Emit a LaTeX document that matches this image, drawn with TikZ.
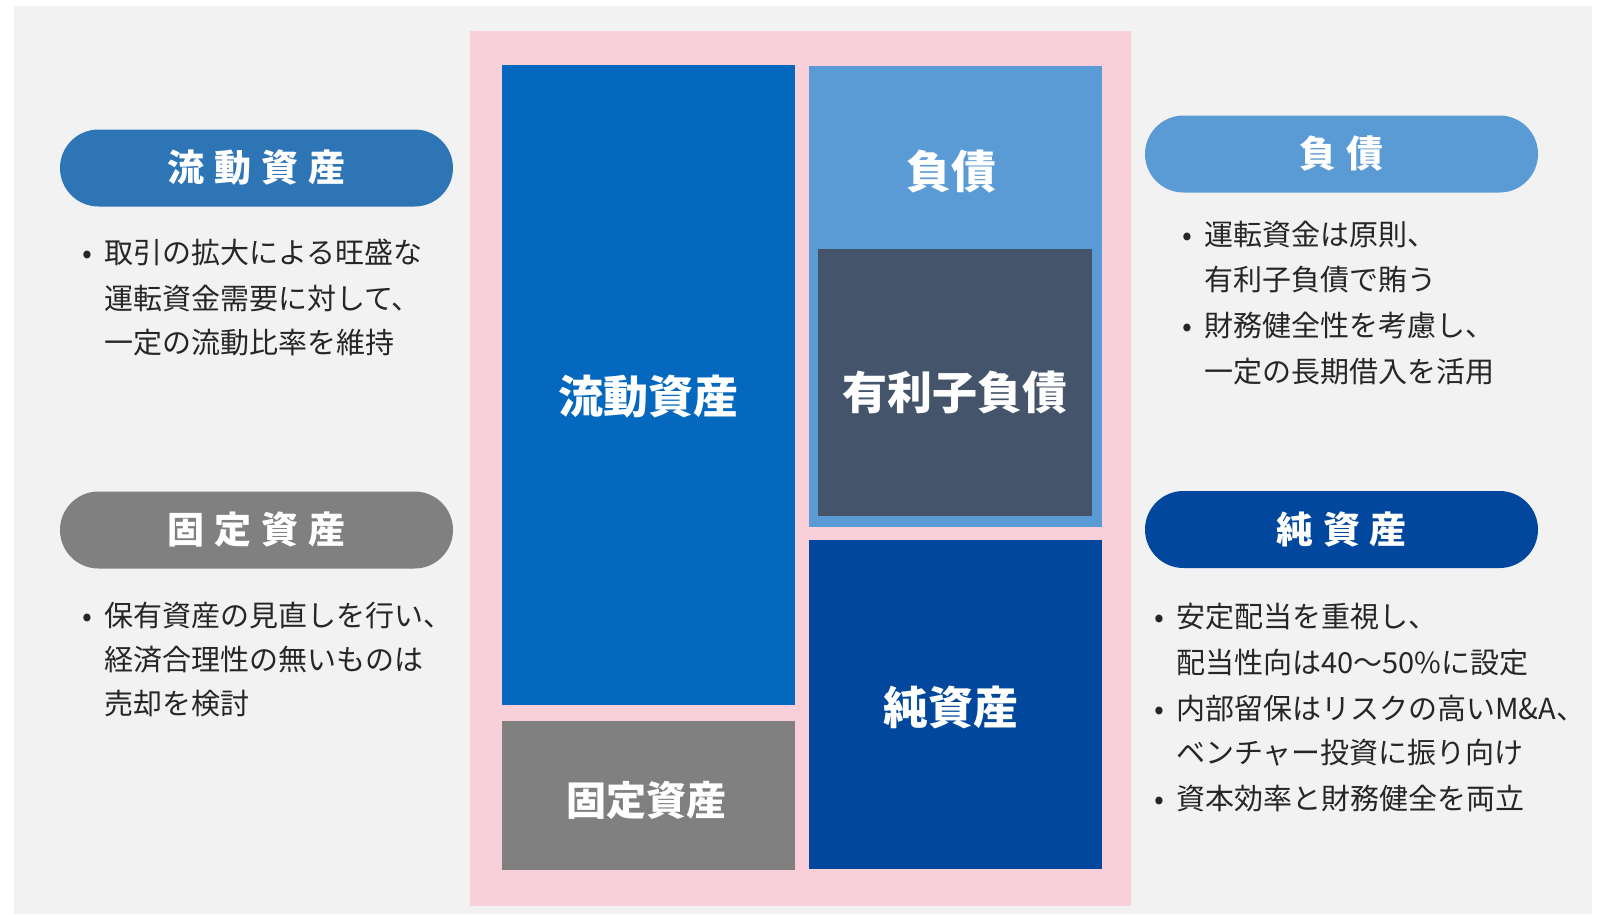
\documentclass[tikz,border=0pt]{standalone}
\usepackage{fontspec}
\setmainfont{Noto Sans CJK JP}
\definecolor{bggray}{HTML}{F2F2F2}
\definecolor{pinkbg}{HTML}{F9D0D9}
\definecolor{cablue}{HTML}{0468BE}
\definecolor{pillblue}{HTML}{2E75B6}
\definecolor{fagray}{HTML}{808080}
\definecolor{liblue}{HTML}{5B9BD5}
\definecolor{slate}{HTML}{44546A}
\definecolor{navy}{HTML}{00479D}
\definecolor{txt}{HTML}{262626}
\tikzset{
  panel/.style={draw=none, inner sep=0pt, outer sep=0pt},
  bigtext/.style={text=white, inner sep=0pt, font=\fontsize{45}{54}\selectfont\bfseries},
  midtext/.style={text=white, inner sep=0pt, font=\fontsize{40}{48}\selectfont\bfseries},
  pill/.style={draw=none, inner sep=0pt, minimum width=393pt, minimum height=77pt, rounded corners=38.5pt, text=white, font=\fontsize{37}{44}\selectfont\bfseries},
  bl/.style={anchor=west, inner sep=0pt, text=txt, font=\fontsize{29}{35}\selectfont},
}
\newcommand{\bu}{\llap{\makebox[34pt][c]{•}}}
\newcommand{\ls}{\hspace{10pt}}
\begin{document}
\begin{tikzpicture}[x=1pt,y=-1pt]
\useasboundingbox[fill=white] (0,0) rectangle (1598,914);
\fill[bggray] (14,6) rectangle (1592,914);
\fill[pinkbg] (470,31) rectangle (1131,906);

% balance sheet blocks
\node[panel, fill=cablue, minimum width=293pt, minimum height=640pt] (ca) at (648.5,385) {};
\node[panel, fill=fagray, minimum width=293pt, minimum height=149pt] (fa) at (648.5,795.5) {};
\node[panel, fill=liblue, minimum width=293pt, minimum height=461pt] (li) at (955.5,296.5) {};
\node[panel, fill=slate, minimum width=274pt, minimum height=267pt] (ib) at (955,382.5) {};
\node[panel, fill=navy, minimum width=293pt, minimum height=329pt] (na) at (955.5,704.5) {};

\node[bigtext] (catext) at (648,397) {流動資産};
\node[midtext] (fatext) at (646.5,800) {固定資産};
\node[bigtext] (litext) at (951,172) {負債};
\node[bigtext] (ibtext) at (955,393) {有利子負債};
\node[bigtext] (natext) at (951,707) {純資産};

% pills
\node[pill, fill=pillblue] (p1) at (256.5,168) {流\ls 動\ls 資\ls 産};
\node[pill, fill=fagray] (p2) at (256.5,530) {固\ls 定\ls 資\ls 産};
\node[pill, fill=liblue] (p3) at (1341.5,154) {負\ls 債};
\node[pill, fill=navy] (p4) at (1341.5,529.5) {純\ls 資\ls 産};

% left top text
\node[bl] (lt1) at (104,252) {\bu\vphantom{国}取引の拡大による旺盛な};
\node[bl] (lt2) at (104,298) {\vphantom{国}運転資金需要に対して、};
\node[bl] (lt3) at (104,343) {\vphantom{国}一定の流動比率を維持};

% left bottom text
\node[bl] (lb1) at (104,615) {\bu\vphantom{国}保有資産の見直しを行い、};
\node[bl] (lb2) at (104,660) {\vphantom{国}経済合理性の無いものは};
\node[bl] (lb3) at (104,704) {\vphantom{国}売却を検討};

% right top text
\node[bl] (rt1) at (1204,235) {\bu\vphantom{国}運転資金は原則、};
\node[bl] (rt2) at (1204,280) {\vphantom{国}有利子負債で賄う};
\node[bl] (rt3) at (1204,325) {\bu\vphantom{国}財務健全性を考慮し、};
\node[bl] (rt4) at (1204,372) {\vphantom{国}一定の長期借入を活用};

% right bottom text
\node[bl] (rb1) at (1176,617) {\bu\vphantom{国}安定配当を重視し、};
\node[bl] (rb2) at (1176,663) {\vphantom{国}配当性向は40～50\%に設定};
\node[bl] (rb3) at (1176,708) {\bu\vphantom{国}内部留保はリスクの高いM\&A、};
\node[bl] (rb4) at (1176,753) {\vphantom{国}ベンチャー投資に振り向け};
\node[bl] (rb5) at (1176,798) {\bu\vphantom{国}資本効率と財務健全を両立};
\end{tikzpicture}
\end{document}
